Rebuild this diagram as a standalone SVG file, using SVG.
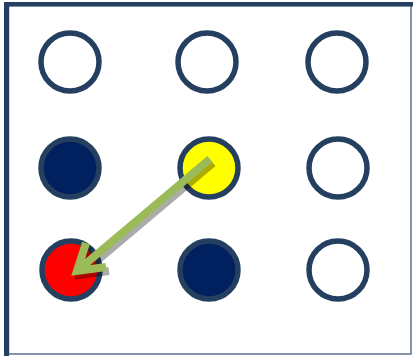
<svg xmlns="http://www.w3.org/2000/svg" width="413" height="356" viewBox="0 0 413 356">
<style>
.ring{stroke:#243f60;stroke-width:5.5}
.empty{fill:#ffffff}
.navy{fill:#002060}
.arr{fill:none;stroke:#9bbb59;stroke-width:8;stroke-linejoin:miter;stroke-linecap:butt}
.shadow{fill:none;stroke:#000000;stroke-opacity:0.33;stroke-width:8;stroke-linejoin:miter;stroke-linecap:butt}
</style>
<rect x="0" y="0" width="413" height="356" fill="#ffffff"/>
<g id="frame">
<rect x="8.5" y="5.5" width="402.5" height="348.5" fill="#ffffff" stroke="#5b7190" stroke-width="1.5"/>
<rect x="4" y="2" width="409" height="4.5" fill="#243f60"/>
<rect x="4" y="2" width="5" height="354" fill="#243f60"/>
</g>
<g id="n11"><circle class="ring empty" cx="70" cy="62" r="29"/></g>
<g id="n12"><circle class="ring empty" cx="207" cy="62" r="29"/></g>
<g id="n13"><circle class="ring empty" cx="337" cy="62" r="29"/></g>
<g id="n21"><circle class="ring navy" cx="70" cy="168" r="29"/></g>
<g id="n22"><circle class="ring" fill="#ffff00" cx="209" cy="168" r="29"/></g>
<g id="n23"><circle class="ring empty" cx="338" cy="168" r="29"/></g>
<g id="n31"><circle class="ring" fill="#ff0000" cx="71" cy="270" r="29"/></g>
<g id="n32"><circle class="ring navy" cx="209" cy="270" r="29"/></g>
<g id="n33"><circle class="ring empty" cx="338" cy="270" r="29"/></g>
<g id="connectors">
<g transform="translate(3,4)">
<path class="shadow" d="M210 159 L77 271 M86 243 L77 271 L106 267"/>
</g>
<path class="arr" d="M210 159 L77 271 M86 243 L77 271 L106 267"/>
</g>
</svg>
